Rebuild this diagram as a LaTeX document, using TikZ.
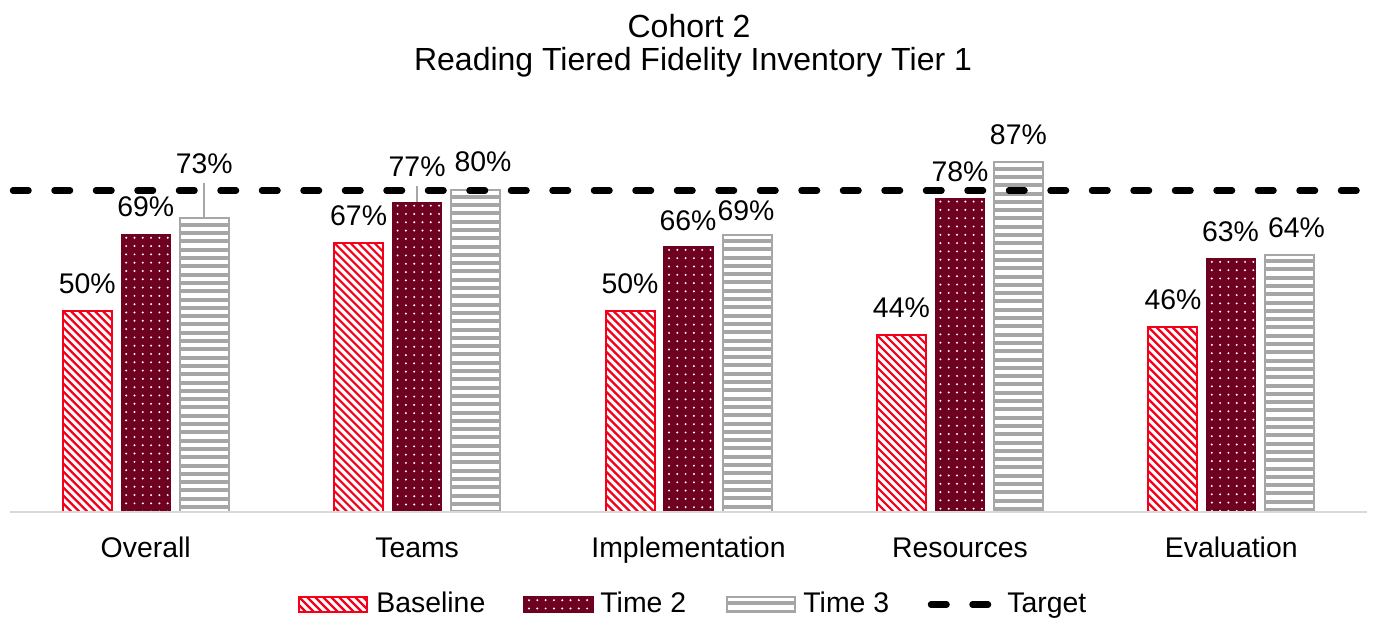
\documentclass[tikz,border=0pt]{standalone}
\usepackage{fontspec}
\setmainfont{Liberation Sans}

\definecolor{baseRed}{HTML}{F5001A}
\definecolor{timeMaroon}{HTML}{6E0020}
\definecolor{timeGray}{HTML}{A6A6A6}
\definecolor{axisGray}{HTML}{D9D9D9}

\begin{document}
\begin{tikzpicture}[
        x=0.5pt, y=-0.5pt,
        basebar/.style={draw=baseRed, line width=1pt, path picture={
            \foreach \k in {-46,...,9}
                \draw[baseRed, line width=1.1pt] ([xshift=\k*4pt]path picture bounding box.north west) -- ++(400,400);
        }},
        twobar/.style={draw=timeMaroon, line width=0.6pt, fill=timeMaroon, path picture={
            \foreach \i in {0,...,8}
                \foreach \j in {0,...,43}
                    \fill[white] ([xshift=2.5pt+\i*4.15pt, yshift=-1.6pt-\j*4.15pt]path picture bounding box.north west) circle (0.55pt);
        }},
        threebar/.style={draw=timeGray, line width=1pt, path picture={
            \foreach \k in {0,...,44}
                \fill[timeGray] ([yshift=-2.2pt-\k*4.15pt]path picture bounding box.north west) rectangle ++(200,4);
        }}
        ]
    % Define styles
    \tikzstyle{pct} = [font=\fontsize{14.2}{17}\selectfont, inner sep=0pt]
    \tikzstyle{txt} = [font=\fontsize{14.2}{17}\selectfont, inner sep=0pt, anchor=base]
    \tikzstyle{target} = [line width=3.25pt, line cap=round, dash pattern=on 7.75pt off 13pt]
    \tikzstyle{leader} = [draw=timeGray, line width=1pt, shorten <=4.5pt]

    % Define canvas
    \path[use as bounding box, fill=white] (0,0) rectangle (1377,619);

    % Define title nodes
    \node[font=\fontsize{16}{19}\selectfont, anchor=base, inner sep=0pt] (title1) at (689,38) {Cohort 2};
    \node[font=\fontsize{16}{19}\selectfont, anchor=base, inner sep=0pt] (title2) at (693,71) {Reading Tiered Fidelity Inventory Tier 1};

    % Draw baseline bars
    \draw[basebar] (62.7,512) rectangle (111.7,311);
    \draw[basebar] (334.1,512) rectangle (383.1,242.7);
    \draw[basebar] (605.5,512) rectangle (654.5,311);
    \draw[basebar] (876.9,512) rectangle (925.9,335.1);
    \draw[basebar] (1148.3,512) rectangle (1197.3,327.1);

    % Draw time 2 bars
    \draw[twobar] (121.2,512) rectangle (170.2,234.6);
    \draw[twobar] (392.6,512) rectangle (441.6,202.5);
    \draw[twobar] (664,512) rectangle (713,246.7);
    \draw[twobar] (935.4,512) rectangle (984.4,198.4);
    \draw[twobar] (1206.8,512) rectangle (1255.8,258.7);

    % Draw time 3 bars
    \draw[threebar] (179.7,512) rectangle (228.7,218.5);
    \draw[threebar] (451.1,512) rectangle (500.1,190.4);
    \draw[threebar] (722.5,512) rectangle (771.5,234.6);
    \draw[threebar] (993.9,512) rectangle (1042.9,162.3);
    \draw[threebar] (1265.3,512) rectangle (1314.3,254.7);

    % Draw the category axis
    \coordinate (ax1) at (10,512);
    \coordinate (ax2) at (1367,512);
    \draw[axisGray, line width=1.2pt] (ax1) -- (ax2);

    % Draw the target line
    \coordinate (tg1) at (13,190.5);
    \coordinate (tg2) at (1364,190.5);
    \draw[target] (tg1) -- (tg2);

    % Define value labels
    \node[pct] (b1) at (87.2,283.5) {50\%};
    \node[pct] (s1) at (145.7,207) {69\%};
    \node[pct] (t1) at (204.2,164) {73\%};
    \node[pct] (b2) at (358.6,216) {67\%};
    \node[pct] (s2) at (417.1,166.5) {77\%};
    \node[pct] (t2) at (483,161.5) {80\%};
    \node[pct] (b3) at (630,284) {50\%};
    \node[pct] (s3) at (688,221) {66\%};
    \node[pct] (t3) at (746,211) {69\%};
    \node[pct] (b4) at (901.4,308) {44\%};
    \node[pct] (s4) at (960,172) {78\%};
    \node[pct] (t4) at (1018.4,134.5) {87\%};
    \node[pct] (b5) at (1173,299.5) {46\%};
    \node[pct] (s5) at (1230.5,232) {63\%};
    \node[pct] (t5) at (1296.5,228) {64\%};

    % Draw leader lines from labels to bar tops
    \coordinate (top13) at (204.2,218.5);
    \coordinate (top22) at (417.1,202.5);
    \draw[leader] (t1.south) -- (top13);
    \draw[leader] (s2.south) -- (top22);

    % Define category nodes
    \node[txt] (catOverall) at (145.7,557.5) {Overall};
    \node[txt] (catTeams) at (417.1,557.5) {Teams};
    \node[txt] (catImpl) at (688.5,557.5) {Implementation};
    \node[txt] (catRes) at (959.9,557.5) {Resources};
    \node[txt] (catEval) at (1231.3,557.5) {Evaluation};

    % Define legend
    \draw[basebar] (299,597) rectangle (367,612);
    \node[txt, anchor=base west] (lgBase) at (376,613) {Baseline};
    \draw[twobar] (524,597) rectangle (593,612);
    \node[txt, anchor=base west] (lgTwo) at (600,613) {Time 2};
    \draw[threebar] (727,597) rectangle (795,612);
    \node[txt, anchor=base west] (lgThree) at (803,613) {Time 3};
    \coordinate (lgA) at (931,604.5);
    \coordinate (lgB) at (989,604.5);
    \draw[target] (lgA) -- (lgB);
    \node[txt, anchor=base west] (lgTarget) at (1007,613) {Target};

\end{tikzpicture}
\end{document}
